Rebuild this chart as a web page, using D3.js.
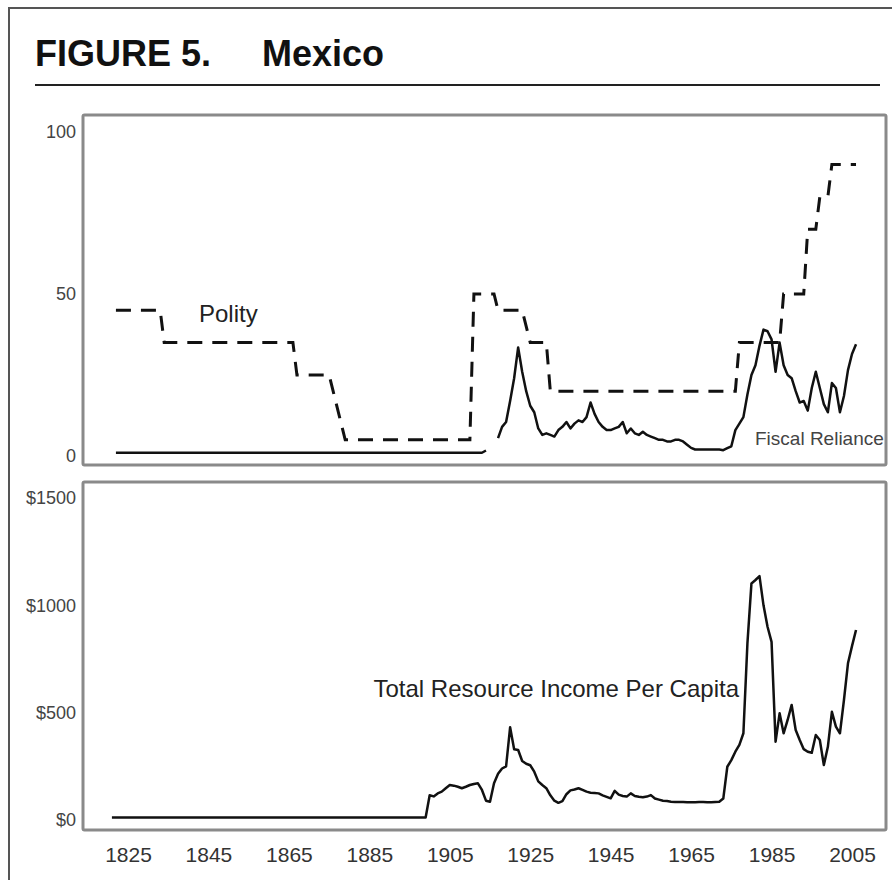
<!DOCTYPE html>
<html>
<head>
<meta charset="utf-8">
<script src="https://cdn.jsdelivr.net/npm/d3@7"></script>
<style>
  html, body { margin: 0; padding: 0; background: #fff; }
  svg { display: block; }
</style>
</head>
<body>
<svg id="chart" width="892" height="880"></svg>
<script>
// ---------------- DATA ----------------
const xTickYears = [1825, 1845, 1865, 1885, 1905, 1925, 1945, 1965, 1985, 2005];
const topTicks = [0, 50, 100];
const topTickLabels = ["0", "50", "100"];
const bottomTicks = [0, 500, 1000, 1500];
const bottomTickLabels = ["$0", "$500", "$1000", "$1500"];

// Polity (0-100 scale), breakpoints of annual step series
const polityYears  = [1822, 1833, 1834, 1866, 1867, 1875, 1876, 1877, 1878, 1879, 1910, 1911, 1916, 1917, 1923, 1924, 1925, 1929, 1930, 1976, 1977, 1987, 1988, 1993, 1994, 1996, 1997, 1999, 2000, 2006];
const polityValues = [45,   45,   35,   35,   25,   25,   20,   15,   10,   5,    5,    50,   50,   45,   45,   40,   35,   35,   20,   20,   35,   35,   50,   50,   70,   70,   80,   80,   90,   90];

// Fiscal reliance (early flat part, then a gap, then annual values from 1917)
const fiscalEarlyYears  = [1822, 1913, 1914];
const fiscalEarlyValues = [1,    1,    1.7];
const fiscalLateStart = 1917;
const fiscalLateValues = [
  5.5, 9, 10.5, 17, 24, 33.5, 26, 20, 15.5, 13.5,      // 1917-1926
  8.5, 6.5, 7, 6.5, 6, 8, 9, 10.5, 8.5, 10,            // 1927-1936
  11, 10.5, 12, 16.5, 13, 10.5, 9, 8, 8, 8.5,          // 1937-1946
  9, 10.5, 7, 8.5, 7, 6.5, 7.5, 6.5, 6, 5.5,           // 1947-1956
  5, 5, 4.5, 4.5, 5, 5, 4.5, 3.5, 2.5, 2,              // 1957-1966
  2, 2, 2, 2, 2, 2, 1.8, 2.4, 3, 8,                    // 1967-1976
  10, 12, 19, 25, 28, 34, 39, 38.5, 36, 26,            // 1977-1986
  35, 28, 25, 24, 20, 16.5, 17, 14, 21, 26,            // 1987-1996
  21, 16, 13.5, 22.5, 21, 13.5, 18.5, 26.5, 31.5, 34.5 // 1997-2006
];

// Total resource income per capita (US$)
const resourceEarlyYears  = [1821, 1899];
const resourceEarlyValues = [12,   12];
const resourceStart = 1900;
const resourceValues = [
  115, 110, 124, 132, 148, 163, 160, 155, 148, 155,    // 1900-1909
  163, 168, 171, 140, 90, 85, 171, 215, 240, 250,      // 1910-1919
  432, 330, 326, 275, 262, 255, 225, 180, 163, 148,    // 1920-1929
  115, 90, 80, 88, 120, 138, 142, 148, 140, 132,       // 1930-1939
  127, 126, 124, 115, 108, 101, 136, 118, 112, 109,    // 1940-1949
  124, 112, 108, 106, 109, 116, 100, 95, 90, 88,       // 1950-1959
  85, 84, 84, 84, 83, 83, 83, 84, 84, 83,              // 1960-1969
  83, 84, 85, 100, 248, 279, 318, 350, 404, 823,       // 1970-1979
  1102, 1118, 1136, 1000, 900, 830, 365, 497, 404, 466,// 1980-1989
  536, 419, 373, 330, 318, 313, 396, 373, 256, 341,    // 1990-1999
  504, 435, 404, 559, 730, 810, 885                    // 2000-2006
];

// ---------------- BUILD SERIES ----------------
const polity = polityYears.map((y, i) => ({ year: y, v: polityValues[i] }));
const fiscal = fiscalEarlyYears.map((y, i) => ({ year: y, v: fiscalEarlyValues[i] }))
  .concat([{ year: 1915, v: null }])
  .concat(fiscalLateValues.map((v, i) => ({ year: fiscalLateStart + i, v })));
const resource = resourceEarlyYears.map((y, i) => ({ year: y, v: resourceEarlyValues[i] }))
  .concat(resourceValues.map((v, i) => ({ year: resourceStart + i, v })));

// ---------------- LAYOUT ----------------
const svg = d3.select("#chart");
const font = "'Liberation Sans', Arial, Helvetica, sans-serif";
const panelL = 83, panelR = 886;
const topPanel = { t: 115, b: 465 };
const botPanel = { t: 482, b: 830 };

const x = d3.scaleLinear().domain([1825, 2005]).range([128, 852]);
const yTop = d3.scaleLinear().domain([0, 100]).range([456, 132]);
const yBot = d3.scaleLinear().domain([0, 1500]).range([820, 498]);

svg.append("rect").attr("width", 892).attr("height", 880).attr("fill", "#fff");

// outer frame
svg.append("path").attr("d", "M9,880 V8 H892")
  .attr("fill", "none").attr("stroke", "#555").attr("stroke-width", 2);

// title
svg.append("text").attr("x", 35).attr("y", 66)
  .attr("font-family", font).attr("font-weight", "bold").attr("font-size", 36)
  .attr("fill", "#111").text("FIGURE 5.");
svg.append("text").attr("x", 262).attr("y", 66)
  .attr("font-family", font).attr("font-weight", "bold").attr("font-size", 36)
  .attr("fill", "#111").text("Mexico");
svg.append("line").attr("x1", 35).attr("x2", 880).attr("y1", 85).attr("y2", 85)
  .attr("stroke", "#222").attr("stroke-width", 2);

// panel frames
[topPanel, botPanel].forEach(p => {
  svg.append("rect").attr("x", panelL).attr("y", p.t)
    .attr("width", panelR - panelL).attr("height", p.b - p.t)
    .attr("fill", "none").attr("stroke", "#8a8a8a").attr("stroke-width", 3)
    .attr("rx", 1.5);
});

// axes (labels only)
function styleAxis(g, size, color) {
  g.select(".domain").remove();
  g.selectAll("line").remove();
  g.selectAll("text").attr("font-family", font).attr("font-size", size).attr("fill", color);
}
svg.append("g").attr("transform", "translate(79,0)")
  .call(d3.axisLeft(yTop).tickValues(topTicks).tickSize(0).tickPadding(3)
    .tickFormat((d, i) => topTickLabels[i]))
  .call(g => styleAxis(g, 18, "#444"));
svg.append("g").attr("transform", "translate(79,0)")
  .call(d3.axisLeft(yBot).tickValues(bottomTicks).tickSize(0).tickPadding(3)
    .tickFormat((d, i) => bottomTickLabels[i]))
  .call(g => styleAxis(g, 18, "#444"));
svg.append("g").attr("transform", "translate(0,847)")
  .call(d3.axisBottom(x).tickValues(xTickYears).tickSize(0).tickPadding(0)
    .tickFormat(d3.format("d")))
  .call(g => styleAxis(g, 21, "#333"));

// lines
const lineTop = d3.line().defined(d => d.v != null).x(d => x(d.year)).y(d => yTop(d.v));
const lineBot = d3.line().x(d => x(d.year)).y(d => yBot(d.v));

svg.append("path").datum(polity).attr("d", lineTop)
  .attr("fill", "none").attr("stroke", "#111").attr("stroke-width", 3)
  .attr("stroke-dasharray", "15,10");
svg.append("path").datum(fiscal).attr("d", lineTop)
  .attr("fill", "none").attr("stroke", "#111").attr("stroke-width", 2.5)
  .attr("stroke-linejoin", "round");
svg.append("path").datum(resource).attr("d", lineBot)
  .attr("fill", "none").attr("stroke", "#111").attr("stroke-width", 2.5)
  .attr("stroke-linejoin", "round");

// series labels
svg.append("text").attr("x", 199).attr("y", 322)
  .attr("font-family", font).attr("font-size", 24).attr("fill", "#222").text("Polity");
svg.append("text").attr("x", 755).attr("y", 445)
  .attr("font-family", font).attr("font-size", 19).attr("fill", "#444").text("Fiscal Reliance");
svg.append("text").attr("x", 739).attr("y", 697).attr("text-anchor", "end")
  .attr("font-family", font).attr("font-size", 24).attr("fill", "#222").text("Total Resource Income Per Capita");
</script>
</body>
</html>
